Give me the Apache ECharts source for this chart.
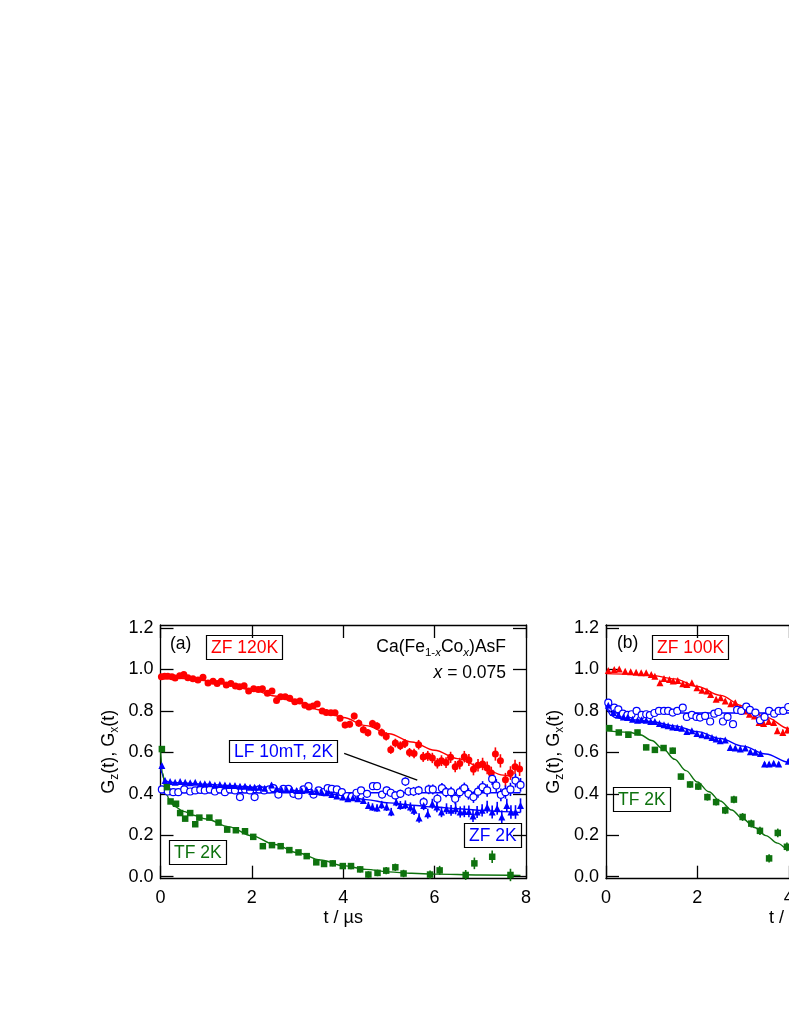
<!DOCTYPE html>
<html><head><meta charset="utf-8">
<script src="https://cdn.jsdelivr.net/npm/echarts@6/dist/echarts.min.js"></script>
<style>html,body{margin:0;padding:0;background:#fff}#c{width:789px;height:1021px}</style>
</head><body><div id="c"></div>
<script>
// ---------- DATA: panel (a) x = 0.075 ----------  [t (µs), G, error]
const zf120K_a = [[0.02,0.965,0.006],[0.09,0.968,0.006],[0.16,0.967,0.006],[0.25,0.965,0.006],[0.32,0.959,0.006],[0.42,0.970,0.006],[0.51,0.976,0.006],[0.60,0.960,0.006],[0.71,0.955,0.006],[0.82,0.949,0.006],[0.93,0.963,0.006],[1.04,0.935,0.006],[1.15,0.943,0.007],[1.24,0.933,0.007],[1.33,0.943,0.007],[1.44,0.925,0.007],[1.54,0.933,0.007],[1.64,0.920,0.007],[1.73,0.917,0.008],[1.83,0.922,0.008],[1.93,0.896,0.008],[2.04,0.907,0.008],[2.14,0.904,0.009],[2.23,0.907,0.009],[2.34,0.885,0.009],[2.44,0.896,0.009],[2.54,0.850,0.010],[2.63,0.869,0.010],[2.73,0.869,0.010],[2.83,0.861,0.010],[2.94,0.845,0.011],[3.05,0.848,0.011],[3.16,0.828,0.012],[3.25,0.819,0.012],[3.34,0.824,0.012],[3.43,0.834,0.013],[3.54,0.800,0.013],[3.63,0.792,0.013],[3.73,0.791,0.014],[3.82,0.791,0.014],[3.93,0.765,0.015],[4.04,0.732,0.015],[4.14,0.736,0.016],[4.24,0.775,0.016],[4.34,0.741,0.017],[4.44,0.709,0.017],[4.54,0.695,0.018],[4.64,0.739,0.018],[4.74,0.727,0.019],[4.84,0.696,0.019],[4.94,0.677,0.020],[5.04,0.613,0.020],[5.14,0.645,0.021],[5.25,0.632,0.021],[5.35,0.643,0.022],[5.45,0.599,0.022],[5.55,0.595,0.023],[5.65,0.637,0.023],[5.75,0.578,0.024],[5.85,0.583,0.024],[5.95,0.573,0.025],[6.06,0.547,0.025],[6.15,0.560,0.026],[6.25,0.551,0.026],[6.35,0.576,0.027],[6.45,0.531,0.027],[6.55,0.546,0.028],[6.65,0.579,0.028],[6.75,0.563,0.029],[6.85,0.518,0.029],[6.95,0.538,0.030],[7.05,0.544,0.030],[7.15,0.525,0.031],[7.24,0.500,0.031],[7.33,0.592,0.032],[7.44,0.559,0.032],[7.55,0.468,0.033],[7.66,0.500,0.033],[7.76,0.530,0.034],[7.86,0.520,0.034]];
const zf120K_a_fit = [[0,0.962],[0.5,0.957],[1,0.946],[1.5,0.927],[2,0.902],[2.5,0.872],[3,0.840],[3.5,0.805],[4,0.768],[4.5,0.729],[5,0.690],[5.5,0.650],[6,0.610],[6.5,0.570],[7,0.530],[7.5,0.490],[7.86,0.465]];

const lf10mT_a = [[0.03,0.421,0.006],[0.16,0.411,0.006],[0.28,0.408,0.006],[0.39,0.408,0.006],[0.52,0.421,0.006],[0.65,0.411,0.006],[0.76,0.416,0.006],[0.87,0.419,0.006],[0.97,0.416,0.007],[1.08,0.421,0.007],[1.19,0.411,0.007],[1.30,0.421,0.007],[1.41,0.408,0.007],[1.52,0.421,0.008],[1.63,0.416,0.008],[1.74,0.384,0.008],[1.85,0.421,0.008],[1.96,0.416,0.008],[2.06,0.384,0.009],[2.16,0.421,0.009],[2.27,0.416,0.009],[2.38,0.421,0.009],[2.47,0.427,0.010],[2.58,0.396,0.010],[2.69,0.424,0.010],[2.80,0.424,0.011],[2.91,0.400,0.011],[3.02,0.392,0.011],[3.13,0.421,0.012],[3.24,0.437,0.012],[3.35,0.396,0.012],[3.46,0.416,0.013],[3.57,0.408,0.013],[3.66,0.427,0.013],[3.75,0.424,0.014],[3.86,0.421,0.014],[3.97,0.408,0.015],[4.08,0.389,0.015],[4.19,0.387,0.016],[4.29,0.405,0.016],[4.39,0.416,0.016],[4.52,0.400,0.017],[4.65,0.437,0.017],[4.74,0.437,0.018],[4.85,0.396,0.018],[4.95,0.416,0.019],[5.04,0.405,0.019],[5.14,0.392,0.020],[5.25,0.400,0.020],[5.36,0.459,0.021],[5.43,0.411,0.021],[5.54,0.411,0.022],[5.65,0.416,0.022],[5.76,0.360,0.023],[5.87,0.421,0.023],[5.96,0.421,0.024],[6.06,0.376,0.024],[6.16,0.427,0.025],[6.25,0.408,0.025],[6.36,0.408,0.026],[6.45,0.376,0.026],[6.55,0.408,0.027],[6.65,0.427,0.027],[6.74,0.400,0.028],[6.85,0.384,0.028],[6.95,0.410,0.029],[7.05,0.432,0.029],[7.15,0.416,0.030],[7.26,0.472,0.030],[7.35,0.440,0.031],[7.45,0.395,0.031],[7.55,0.408,0.032],[7.66,0.421,0.032],[7.77,0.464,0.033],[7.88,0.443,0.033]];
const lf10mT_a_fit = [[0,0.405],[7.88,0.405]];

const zf2K_a = [[0.03,0.536,0.006],[0.10,0.464,0.006],[0.21,0.459,0.006],[0.32,0.456,0.006],[0.43,0.459,0.006],[0.54,0.456,0.006],[0.65,0.453,0.006],[0.76,0.456,0.006],[0.87,0.448,0.006],[0.97,0.448,0.007],[1.08,0.448,0.007],[1.19,0.443,0.007],[1.30,0.445,0.007],[1.41,0.443,0.007],[1.52,0.440,0.008],[1.63,0.440,0.008],[1.74,0.437,0.008],[1.85,0.437,0.008],[1.96,0.432,0.008],[2.06,0.432,0.009],[2.17,0.432,0.009],[2.28,0.427,0.009],[2.43,0.443,0.010],[2.54,0.424,0.010],[2.65,0.421,0.010],[2.76,0.421,0.011],[2.87,0.421,0.011],[2.98,0.416,0.011],[3.09,0.416,0.012],[3.20,0.421,0.012],[3.31,0.411,0.012],[3.42,0.411,0.013],[3.53,0.408,0.013],[3.64,0.405,0.013],[3.75,0.396,0.014],[3.86,0.389,0.014],[3.99,0.384,0.015],[4.10,0.376,0.015],[4.21,0.381,0.016],[4.32,0.376,0.016],[4.44,0.368,0.017],[4.55,0.344,0.017],[4.64,0.336,0.018],[4.74,0.331,0.018],[4.84,0.347,0.019],[4.95,0.336,0.019],[5.05,0.312,0.020],[5.16,0.360,0.020],[5.25,0.344,0.021],[5.36,0.347,0.021],[5.47,0.336,0.022],[5.55,0.320,0.022],[5.66,0.283,0.023],[5.76,0.344,0.023],[5.85,0.304,0.024],[5.95,0.352,0.024],[6.05,0.336,0.025],[6.15,0.312,0.025],[6.26,0.328,0.026],[6.36,0.320,0.026],[6.46,0.328,0.027],[6.56,0.312,0.027],[6.65,0.315,0.028],[6.75,0.315,0.028],[6.84,0.293,0.029],[6.93,0.312,0.029],[7.04,0.320,0.030],[7.15,0.336,0.030],[7.26,0.312,0.031],[7.37,0.330,0.031],[7.47,0.288,0.032],[7.58,0.344,0.032],[7.67,0.312,0.033],[7.77,0.312,0.033],[7.88,0.344,0.034]];
const zf2K_a_fit = [[0,0.535],[0.03,0.500],[0.07,0.475],[0.12,0.462],[0.2,0.456],[0.5,0.452],[1,0.446],[1.5,0.440],[2,0.432],[2.5,0.424],[3,0.415],[3.5,0.405],[4,0.392],[4.5,0.372],[5,0.356],[5.5,0.345],[6,0.336],[6.5,0.328],[7,0.320],[7.5,0.314],[7.88,0.310]];

const tf2K_a = [[0.03,0.616,0.010],[0.14,0.432,0.008],[0.22,0.363,0.008],[0.34,0.352,0.008],[0.43,0.307,0.008],[0.54,0.280,0.008],[0.65,0.307,0.008],[0.76,0.253,0.008],[0.85,0.285,0.008],[1.07,0.285,0.008],[1.27,0.261,0.008],[1.46,0.227,0.009],[1.65,0.224,0.009],[1.85,0.219,0.009],[2.03,0.192,0.010],[2.24,0.147,0.010],[2.44,0.152,0.010],[2.63,0.147,0.011],[2.82,0.128,0.011],[3.02,0.117,0.012],[3.20,0.099,0.012],[3.41,0.069,0.013],[3.58,0.061,0.013],[3.77,0.064,0.014],[3.99,0.051,0.014],[4.17,0.051,0.015],[4.37,0.035,0.015],[4.55,0.010,0.016],[4.75,0.018,0.016],[4.94,0.029,0.017],[5.14,0.045,0.018],[5.32,0.015,0.018],[5.90,0.010,0.020],[6.11,0.030,0.022],[6.68,0.008,0.024],[6.87,0.064,0.028],[7.26,0.096,0.030],[7.66,0.008,0.030]];
const tf2K_a_fit = [[0,0.612],[0.05,0.500],[0.1,0.430],[0.15,0.390],[0.2,0.365],[0.3,0.340],[0.5,0.315],[0.75,0.295],[1,0.278],[1.5,0.240],[2,0.197],[2.5,0.155],[3,0.115],[3.5,0.080],[4,0.053],[4.5,0.035],[5,0.023],[5.5,0.016],[6,0.012],[7,0.008],[7.88,0.006]];

// annotation pointer from "LF 10mT, 2K" box (data coords)
const lfPointer_a = [[4.02,0.595],[5.62,0.466]];

// ---------- DATA: panel (b) ----------
const zf100K_b = [[0.05,0.995,0.005],[0.18,1.000,0.005],[0.29,1.003,0.005],[0.42,0.992,0.005],[0.54,0.989,0.005],[0.66,0.987,0.005],[0.77,0.984,0.005],[0.88,0.984,0.005],[0.99,0.976,0.006],[1.07,0.968,0.006],[1.18,0.936,0.006],[1.27,0.957,0.006],[1.39,0.952,0.007],[1.47,0.944,0.007],[1.57,0.947,0.007],[1.68,0.931,0.007],[1.77,0.928,0.008],[1.88,0.936,0.008],[1.99,0.912,0.008],[2.10,0.900,0.008],[2.21,0.896,0.009],[2.29,0.880,0.009],[2.41,0.856,0.009],[2.51,0.864,0.010],[2.61,0.848,0.010],[2.73,0.835,0.010],[2.83,0.840,0.011],[2.94,0.816,0.011],[3.04,0.800,0.012],[3.14,0.784,0.012],[3.25,0.776,0.012],[3.35,0.744,0.013],[3.45,0.739,0.013],[3.56,0.749,0.014],[3.67,0.744,0.014],[3.75,0.704,0.015],[3.87,0.696,0.015],[3.97,0.708,0.016]];
const zf100K_b_fit = [[0,0.980],[0.5,0.978],[1,0.972],[1.5,0.955],[2,0.918],[2.5,0.875],[3,0.824],[3.5,0.770],[4,0.715],[4.5,0.660]];

const lf_b = [[0.05,0.840,0.008],[0.18,0.816,0.008],[0.27,0.808,0.008],[0.37,0.787,0.008],[0.47,0.781,0.008],[0.56,0.784,0.008],[0.67,0.800,0.008],[0.78,0.781,0.009],[0.88,0.784,0.009],[0.96,0.780,0.009],[1.06,0.790,0.009],[1.16,0.800,0.009],[1.27,0.800,0.010],[1.36,0.800,0.010],[1.46,0.792,0.010],[1.56,0.800,0.010],[1.68,0.816,0.010],[1.77,0.771,0.011],[1.88,0.781,0.011],[1.98,0.771,0.011],[2.06,0.768,0.011],[2.17,0.776,0.012],[2.28,0.749,0.012],[2.37,0.787,0.012],[2.46,0.795,0.012],[2.56,0.749,0.013],[2.66,0.771,0.013],[2.78,0.736,0.013],[2.87,0.805,0.013],[2.96,0.800,0.014],[3.07,0.821,0.014],[3.15,0.805,0.014],[3.27,0.792,0.015],[3.37,0.755,0.015],[3.47,0.771,0.015],[3.57,0.800,0.016],[3.68,0.787,0.016],[3.78,0.800,0.016],[3.88,0.800,0.017],[3.99,0.819,0.017]];
const lf_b_fit = [[0,0.825],[0.05,0.805],[0.12,0.793],[0.25,0.790],[4.5,0.790]];

const zf2K_b = [[0.05,0.828,0.005],[0.16,0.792,0.005],[0.27,0.781,0.005],[0.38,0.771,0.005],[0.47,0.768,0.005],[0.58,0.760,0.005],[0.69,0.755,0.005],[0.78,0.757,0.005],[0.88,0.755,0.005],[0.98,0.749,0.005],[1.07,0.749,0.005],[1.17,0.739,0.005],[1.27,0.733,0.005],[1.36,0.728,0.006],[1.46,0.723,0.006],[1.56,0.720,0.006],[1.66,0.717,0.006],[1.77,0.701,0.006],[1.88,0.704,0.006],[1.99,0.691,0.006],[2.10,0.685,0.007],[2.21,0.680,0.007],[2.32,0.672,0.007],[2.41,0.664,0.007],[2.50,0.656,0.007],[2.61,0.660,0.007],[2.72,0.624,0.008],[2.83,0.621,0.008],[2.94,0.616,0.008],[3.05,0.621,0.008],[3.16,0.603,0.008],[3.27,0.600,0.009],[3.38,0.595,0.009],[3.47,0.544,0.009],[3.57,0.544,0.009],[3.67,0.547,0.009],[3.78,0.544,0.010],[3.99,0.557,0.010]];
const zf2K_b_fit = [[0,0.830],[0.04,0.800],[0.1,0.780],[0.2,0.768],[0.4,0.762],[0.7,0.756],[1,0.748],[1.5,0.728],[2,0.700],[2.5,0.667],[3,0.630],[3.5,0.592],[4,0.552],[4.5,0.510]];

const tf2K_b = [[0.07,0.717,0.012],[0.28,0.696,0.012],[0.49,0.685,0.012],[0.69,0.696,0.013],[0.88,0.624,0.013],[1.07,0.612,0.014],[1.26,0.621,0.014],[1.46,0.608,0.015],[1.64,0.483,0.015],[1.84,0.445,0.016],[2.02,0.435,0.016],[2.22,0.384,0.017],[2.41,0.360,0.017],[2.61,0.320,0.018],[2.80,0.372,0.018],[2.99,0.288,0.019],[3.18,0.256,0.019],[3.37,0.221,0.020],[3.57,0.088,0.020],[3.76,0.211,0.021],[3.96,0.144,0.021]];
const tf2K_b_fit = [[0,0.705],[0.5,0.697],[0.75,0.685],[1,0.657],[1.25,0.617],[1.5,0.567],[1.75,0.512],[2,0.457],[2.25,0.410],[2.5,0.365],[2.75,0.322],[3,0.278],[3.25,0.237],[3.5,0.198],[3.75,0.162],[4,0.128],[4.5,0.080]];

const yTicks = [0, 0.2, 0.4, 0.6, 0.8, 1.0, 1.2];
const xTickStep = 2;

// ---------- STYLE ----------
const RED = '#ff0000', BLUE = '#0000ff', GREEN = '#0e720e', BLACK = '#000';
const FONT = '"Liberation Sans", Arial, Helvetica, sans-serif';
const FS = 18;
const axLine = {color: BLACK, width: 1.3};

function xAx(grid, pos, show) {
  return {
    gridIndex: grid, type: 'value', position: pos, min: 0, max: 8, interval: xTickStep,
    axisLine: {show: true, onZero: false, lineStyle: axLine},
    axisTick: {show: true, inside: true, length: 13, lineStyle: axLine},
    axisLabel: {show: show, color: BLACK, fontSize: FS, fontFamily: FONT, margin: 10, showMaxLabel: true, showMinLabel: true},
    splitLine: {show: false},
    name: show ? 't / µs' : '', nameLocation: 'middle', nameGap: 30,
    nameTextStyle: {color: BLACK, fontSize: FS, fontFamily: FONT}
  };
}
const subStyle = {fontSize: 12, fontFamily: FONT, color: BLACK, padding: [11, 0, 0, 0]};
function yAx(grid, pos, show) {
  return {
    gridIndex: grid, type: 'value', position: pos, min: -0.01, max: 1.215,
    axisLine: {show: true, onZero: false, lineStyle: axLine},
    axisTick: {show: true, inside: true, length: 13, customValues: yTicks, lineStyle: axLine},
    axisLabel: {show: show, customValues: yTicks, formatter: v => v.toFixed(1), color: BLACK, fontSize: FS, fontFamily: FONT, margin: 7},
    splitLine: {show: false},
    name: show ? 'G{s|z}(t), G{s|x}(t)' : '', nameLocation: 'middle', nameGap: 40, nameRotate: 90,
    nameTextStyle: {color: BLACK, fontSize: FS, fontFamily: FONT, rich: {s: subStyle}}
  };
}

function fitLine(data, color, xi, yi) {
  return {type: 'line', xAxisIndex: xi, yAxisIndex: yi, data: data, smooth: 0.35, smoothMonotone: 'x',
    showSymbol: false, symbol: 'none', lineStyle: {color: color, width: 1.4}, z: 2, silent: true};
}
function errBars(data, color, xi, yi) {
  return {type: 'custom', xAxisIndex: xi, yAxisIndex: yi, data: data, z: 3, silent: true,
    encode: {x: 0, y: 1},
    renderItem: function (params, api) {
      const x = api.value(0), y = api.value(1), e = api.value(2);
      const a = api.coord([x, y + e]), b = api.coord([x, y - e]);
      return {type: 'line', shape: {x1: a[0], y1: a[1], x2: b[0], y2: b[1]}, style: {stroke: color, lineWidth: 1.6}};
    }};
}
function marks(data, color, symbol, size, xi, yi, hollow) {
  return {type: 'scatter', xAxisIndex: xi, yAxisIndex: yi, data: data, symbol: symbol, symbolSize: size, z: 4, silent: true,
    itemStyle: hollow ? {color: '#fff', borderColor: color, borderWidth: 1.2, opacity: 1} : {color: color, opacity: 1}};
}
function boxTitle(text, left, top, color, pad) {
  return {text: text, left: left, top: top, padding: pad || [4, 5, 3, 5], borderColor: BLACK, borderWidth: 1.2,
    textStyle: {color: color, fontSize: 17.5, fontWeight: 'normal', fontFamily: FONT}};
}
function plainTitle(text, pos, color, rich) {
  return Object.assign({text: text, padding: 0,
    textStyle: {color: color || BLACK, fontSize: 17.5, fontWeight: 'normal', fontFamily: FONT, rich: rich || {}}}, pos);
}

const chart = echarts.init(document.getElementById('c'), null, {renderer: 'canvas'});
const series = [];
// panel (a)
series.push(fitLine(zf120K_a_fit, RED, 0, 0), fitLine(lf10mT_a_fit, BLUE, 0, 0), fitLine(zf2K_a_fit, BLUE, 0, 0), fitLine(tf2K_a_fit, GREEN, 0, 0));
series.push({type: 'line', xAxisIndex: 0, yAxisIndex: 0, data: lfPointer_a, showSymbol: false, symbol: 'none', lineStyle: {color: BLACK, width: 1.3}, z: 2, silent: true});
series.push(errBars(zf120K_a, RED, 0, 0), errBars(lf10mT_a, BLUE, 0, 0), errBars(zf2K_a, BLUE, 0, 0), errBars(tf2K_a, GREEN, 0, 0));
series.push(marks(zf120K_a, RED, 'circle', 7, 0, 0), marks(lf10mT_a, BLUE, 'circle', 7, 0, 0, true),
  marks(zf2K_a, BLUE, 'triangle', 7, 0, 0), marks(tf2K_a, GREEN, 'rect', 6.5, 0, 0));
// panel (b)
series.push(fitLine(zf100K_b_fit, RED, 2, 2), fitLine(lf_b_fit, BLUE, 2, 2), fitLine(zf2K_b_fit, BLUE, 2, 2), fitLine(tf2K_b_fit, GREEN, 2, 2));
series.push(errBars(zf100K_b, RED, 2, 2), errBars(lf_b, BLUE, 2, 2), errBars(zf2K_b, BLUE, 2, 2), errBars(tf2K_b, GREEN, 2, 2));
series.push(marks(zf100K_b, RED, 'triangle', 7, 2, 2), marks(lf_b, BLUE, 'circle', 7, 2, 2, true),
  marks(zf2K_b, BLUE, 'triangle', 7, 2, 2), marks(tf2K_b, GREEN, 'rect', 6.5, 2, 2));

const subR = {fontSize: 11.5, fontFamily: FONT, color: BLACK, padding: [11, 0, 0, 0]};
const subRi = Object.assign({}, subR, {fontStyle: 'italic'});

chart.setOption({
  animation: false,
  backgroundColor: '#fff',
  grid: [
    {left: 160.5, top: 625, width: 365.5, height: 253.7, containLabel: false, outerBoundsMode: 'none'},
    {left: 606, top: 625, width: 365.5, height: 253.7, containLabel: false, outerBoundsMode: 'none'}
  ],
  xAxis: [xAx(0, 'bottom', true), xAx(0, 'top', false), xAx(1, 'bottom', true), xAx(1, 'top', false)],
  yAxis: [yAx(0, 'left', true), yAx(0, 'right', false), yAx(1, 'left', true), yAx(1, 'right', false)],
  title: [
    plainTitle('(a)', {left: 170, top: 635}),
    boxTitle('ZF 120K', 206, 635, RED),
    plainTitle('Ca(Fe{s|1-}{si|x}Co{si|x})AsF', {right: 283, top: 636}, BLACK, {s: subR, si: subRi}),
    plainTitle('{i|x} = 0.075', {right: 283, top: 664}, BLACK, {i: {fontSize: 17.5, fontFamily: FONT, fontStyle: 'italic', color: BLACK}}),
    boxTitle('LF 10mT, 2K', 229, 740, BLUE, [3, 5, 2, 5]),
    boxTitle('ZF 2K', 464, 823, BLUE),
    boxTitle('TF 2K', 169, 840, GREEN),
    plainTitle('(b)', {left: 617, top: 634}),
    boxTitle('ZF 100K', 652, 635, RED),
    boxTitle('TF 2K', 613, 787, GREEN)
  ],
  series: series
});
</script>
</body></html>
